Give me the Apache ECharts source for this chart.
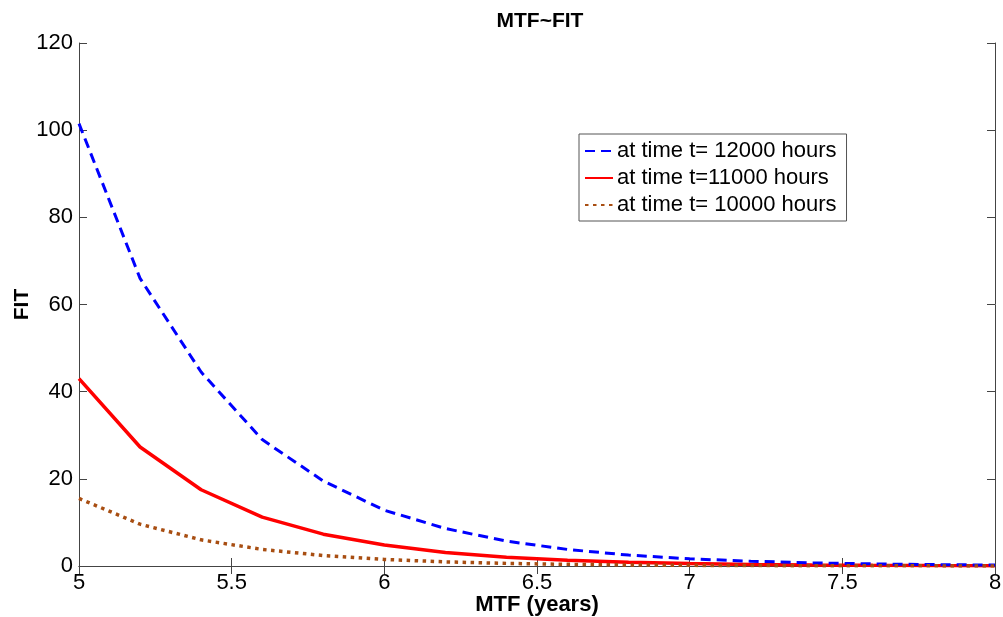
<!DOCTYPE html>
<html>
<head>
<meta charset="utf-8">
<script src="https://cdn.jsdelivr.net/npm/echarts@6/dist/echarts.min.js"></script>
<style>html,body{margin:0;padding:0;background:#fff}#c{width:1003px;height:617px}</style>
</head>
<body>
<div id="c"></div>
<script>
var mtf = [5.0, 5.2, 5.4, 5.6, 5.8, 6.0, 6.2, 6.4, 6.6, 6.8, 7.0, 7.2, 7.4, 7.6, 7.8, 8.0];
var fit12000 = [101.5, 66.0, 44.5, 29.0, 19.5, 12.8, 8.6, 5.7, 3.8, 2.5, 1.65, 1.1, 0.72, 0.48, 0.32, 0.21];
var fit11000 = [43.0, 27.3, 17.5, 11.2, 7.3, 4.8, 3.1, 2.0, 1.3, 0.85, 0.55, 0.36, 0.24, 0.16, 0.1, 0.07];
var fit10000 = [15.5, 9.6, 6.0, 3.8, 2.4, 1.5, 0.95, 0.6, 0.38, 0.24, 0.15, 0.1, 0.06, 0.04, 0.03, 0.02];
var names = ['at time t= 12000 hours', 'at time t=11000 hours', 'at time t= 10000 hours'];

function pairs(ys){ return mtf.map(function(x,i){ return [x, ys[i]]; }); }

var font = 'Liberation Sans, Arial, sans-serif';
var axisCol = '#444';
var chart = echarts.init(document.getElementById('c'));
chart.setOption({
  animation: false,
  title: { text: 'MTF~FIT', left: 535, textAlign: 'center', top: 6,
    textStyle: { fontFamily: font, fontWeight: 'bold', fontSize: 21, color: '#000' } },
  grid: { left: 79, right: 8, top: 43, bottom: 51, outerBoundsMode: 'none', containLabel: false },
  legend: {
    orient: 'vertical', left: 579, top: 134,
    data: names,
    borderColor: '#555', borderWidth: 1, padding: [6, 10, 5, 5],
    itemWidth: 28, itemHeight: 14, itemGap: 5,
    itemStyle: { opacity: 0 },
    textStyle: { fontFamily: font, fontSize: 22, lineHeight: 22, color: '#000', padding: [0,0,0,-1] },
    backgroundColor: '#fff'
  },
  xAxis: [{
    type: 'value', min: 5, max: 8, interval: 0.5,
    name: 'MTF (years)', nameLocation: 'middle', nameGap: 28, nameMoveOverlap: false,
    nameTextStyle: { fontFamily: font, fontWeight: 'bold', fontSize: 22, color: '#000' },
    axisLine: { lineStyle: { color: axisCol } },
    axisTick: { inside: true, length: 8, lineStyle: { color: axisCol } },
    axisLabel: { fontFamily: font, fontSize: 22, color: '#000', margin: 6, showMinLabel: true, showMaxLabel: true },
    splitLine: { show: false }
  }, {
    type: 'value', min: 5, max: 8, interval: 0.5, position: 'top',
    axisLine: { lineStyle: { color: axisCol } },
    axisTick: { inside: true, length: 8, lineStyle: { color: axisCol } },
    axisLabel: { show: false }, splitLine: { show: false }
  }],
  yAxis: [{
    type: 'value', min: 0, max: 120, interval: 20,
    name: 'FIT', nameLocation: 'middle', nameGap: 46, nameRotate: 90, nameMoveOverlap: false,
    nameTextStyle: { fontFamily: font, fontWeight: 'bold', fontSize: 21, color: '#000' },
    axisLine: { show: true, lineStyle: { color: axisCol } },
    axisTick: { show: true, inside: true, length: 8, lineStyle: { color: axisCol } },
    axisLabel: { fontFamily: font, fontSize: 22, color: '#000', margin: 6 },
    splitLine: { show: false }
  }, {
    type: 'value', min: 0, max: 120, interval: 20, position: 'right',
    axisLine: { show: true, lineStyle: { color: axisCol } },
    axisTick: { show: true, inside: true, length: 8, lineStyle: { color: axisCol } },
    axisLabel: { show: false }, splitLine: { show: false }
  }],
  series: [{
    name: names[0], type: 'line', data: pairs(fit12000), showSymbol: false, symbol: 'none',
    lineStyle: { color: '#0000ff', width: 3, type: [10, 6] }, itemStyle: { color: '#0000ff' }, z: 3
  }, {
    name: names[1], type: 'line', data: pairs(fit11000), showSymbol: false, symbol: 'none',
    lineStyle: { color: '#ff0000', width: 3.5, type: 'solid' }, itemStyle: { color: '#ff0000' }, z: 2
  }, {
    name: names[2], type: 'line', data: pairs(fit10000), showSymbol: false, symbol: 'none',
    lineStyle: { color: '#a84e12', width: 3.5, type: [3.5, 4.5] }, itemStyle: { color: '#a84e12' }, z: 4
  }]
});
</script>
</body>
</html>
